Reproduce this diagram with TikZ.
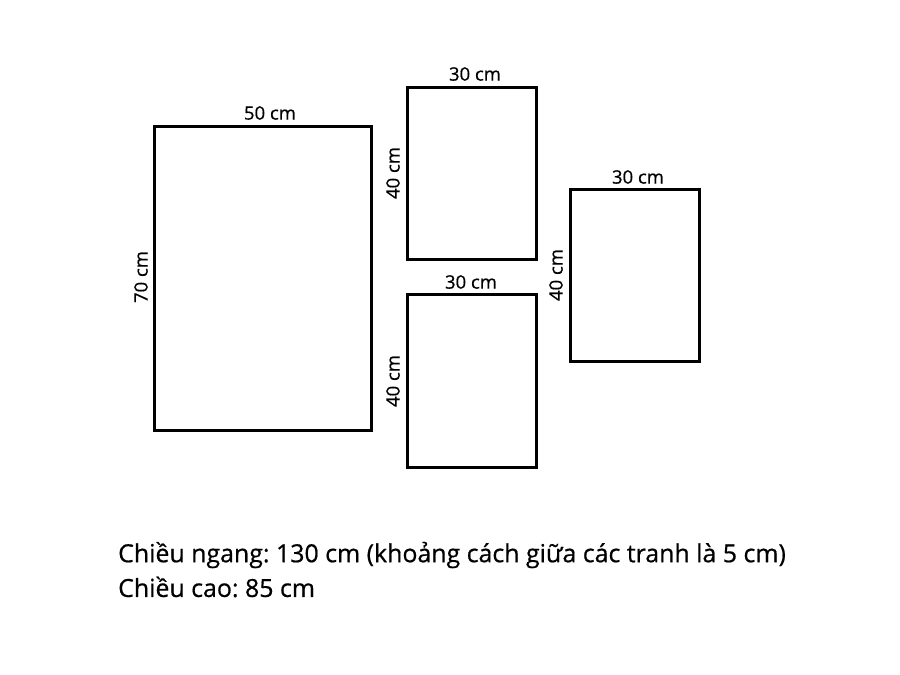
\documentclass[tikz,border=0pt]{standalone}
\usepackage{fontspec}
\setmainfont{Open Sans}
\newfontfamily\semib{Open Sans}[FakeBold=0.6]
\frenchspacing
\begin{document}
\begin{tikzpicture}[x=1pt,y=-1pt,
  frame/.style={draw=black,line width=3pt,inner sep=0pt,outer sep=0pt},
  dim/.style={font=\semib\fontsize{18.5}{20}\selectfont,inner sep=0pt},
  note/.style={font=\semib\fontsize{24.9}{28}\selectfont,inner sep=0pt,anchor=west}]
\useasboundingbox[fill=white] (0,0) rectangle (900,675);
\draw[frame] (154,126) rectangle (371,430);
\draw[frame] (407,87) rectangle (536,259);
\draw[frame] (407,294) rectangle (536,467);
\draw[frame] (570,189) rectangle (699,361);
\node[dim] (l1) at (270,113) {50 cm};
\node[dim,rotate=90] (l2) at (141,277) {70 cm};
\node[dim] (l3) at (475,74) {30 cm};
\node[dim,rotate=90] (l4) at (393,173) {40 cm};
\node[dim] (l5) at (471,282) {30 cm};
\node[dim,rotate=90] (l6) at (393,381) {40 cm};
\node[dim] (l7) at (638,177) {30 cm};
\node[dim,rotate=90] (l8) at (556,275) {40 cm};
\node[note] (t1) at (118,555) {Chiều ngang: 130 cm (khoảng cách giữa các tranh là 5 cm)};
\node[note] (t2) at (118,587) {Chiều cao: 85 cm};
\end{tikzpicture}
\end{document}
